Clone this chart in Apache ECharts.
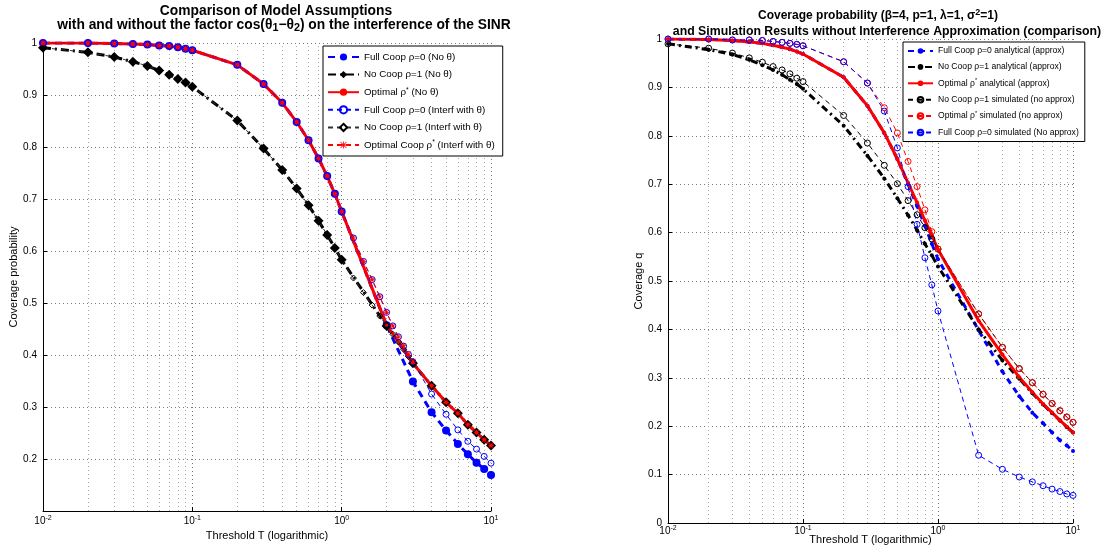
<!DOCTYPE html>
<html>
<head>
<meta charset="utf-8">
<title>Coverage probability comparison</title>
<script src="https://cdn.jsdelivr.net/npm/echarts@6.0.0/dist/echarts.min.js"></script>
<style>
  html, body { margin: 0; padding: 0; background: #fff; }
  #chart { width: 1104px; height: 551px; }
</style>
</head>
<body>
<div id="chart"></div>
<script>
// threshold grid (shared by most curves)
const T = [0.01, 0.02, 0.03, 0.04, 0.05, 0.06, 0.07, 0.08, 0.09, 0.1,
  0.2, 0.3, 0.4, 0.5, 0.6, 0.7, 0.8, 0.9, 1,
  2, 3, 4, 5, 6, 7, 8, 9, 10]
// finer grid used by the "Interf with θ" curves
const thetaT = [0.01, 0.02, 0.03, 0.04, 0.05, 0.06, 0.07, 0.08, 0.09, 0.1,
  0.2, 0.3, 0.4, 0.5, 0.6, 0.7, 0.8, 0.9, 1,
  1.2, 1.4, 1.6, 1.8, 2, 2.2, 2.4, 2.6, 2.8, 3,
  4, 5, 6, 7, 8, 9, 10]

// left panel
const fullCoopNoTheta = [1.000, 1.000, 0.999, 0.998, 0.997, 0.995, 0.994, 0.992, 0.989, 0.986,
  0.958, 0.921, 0.885, 0.848, 0.813, 0.778, 0.744, 0.710, 0.676,
  0.457, 0.349, 0.290, 0.255, 0.229, 0.209, 0.193, 0.181, 0.169]
const noCoopNoTheta = [0.991, 0.982, 0.973, 0.964, 0.956, 0.947, 0.939, 0.931, 0.924, 0.916,
  0.851, 0.797, 0.756, 0.720, 0.688, 0.658, 0.631, 0.606, 0.583,
  0.456, 0.384, 0.341, 0.309, 0.288, 0.266, 0.251, 0.237, 0.226]
const optimalNoTheta = [1.000, 1.000, 0.999, 0.998, 0.997, 0.995, 0.994, 0.992, 0.989, 0.986,
  0.958, 0.921, 0.885, 0.848, 0.813, 0.778, 0.744, 0.710, 0.676,
  0.458, 0.384, 0.341, 0.309, 0.288, 0.266, 0.251, 0.237, 0.226]
const fullCoopTheta = [1.000, 1.000, 0.999, 0.998, 0.997, 0.995, 0.994, 0.992, 0.989, 0.986,
  0.958, 0.921, 0.885, 0.848, 0.813, 0.778, 0.744, 0.710, 0.676,
  0.625, 0.580, 0.545, 0.512, 0.482, 0.456, 0.435, 0.417, 0.401, 0.387,
  0.325, 0.286, 0.256, 0.234, 0.219, 0.205, 0.192]
const noCoopTheta = [0.991, 0.982, 0.973, 0.964, 0.956, 0.947, 0.939, 0.931, 0.924, 0.916,
  0.851, 0.797, 0.756, 0.720, 0.688, 0.658, 0.631, 0.606, 0.583,
  0.548, 0.520, 0.496, 0.475, 0.456, 0.440, 0.425, 0.411, 0.397, 0.384,
  0.341, 0.309, 0.288, 0.266, 0.251, 0.237, 0.226]
const optimalTheta = [1.000, 1.000, 0.999, 0.998, 0.997, 0.995, 0.994, 0.992, 0.989, 0.986,
  0.958, 0.921, 0.885, 0.848, 0.813, 0.778, 0.744, 0.710, 0.676,
  0.625, 0.580, 0.545, 0.512, 0.482, 0.456, 0.435, 0.418, 0.402, 0.388,
  0.341, 0.309, 0.288, 0.266, 0.251, 0.237, 0.226]

// right panel
const fullAnalytic = [1.000, 0.999, 0.997, 0.994, 0.991, 0.987, 0.983, 0.979, 0.974, 0.969,
  0.921, 0.862, 0.806, 0.752, 0.700, 0.655, 0.614, 0.577, 0.545,
  0.398, 0.313, 0.262, 0.228, 0.206, 0.187, 0.171, 0.160, 0.149]
const noCoopAnalytic = [0.990, 0.978, 0.968, 0.957, 0.946, 0.936, 0.926, 0.916, 0.907, 0.897,
  0.821, 0.759, 0.712, 0.671, 0.636, 0.605, 0.577, 0.553, 0.530,
  0.400, 0.336, 0.298, 0.268, 0.245, 0.227, 0.212, 0.198, 0.187]
const optimalAnalytic = [1.000, 0.999, 0.997, 0.994, 0.991, 0.987, 0.983, 0.979, 0.974, 0.969,
  0.921, 0.862, 0.806, 0.752, 0.703, 0.662, 0.625, 0.595, 0.565,
  0.418, 0.348, 0.301, 0.270, 0.246, 0.228, 0.212, 0.199, 0.187]
const noCoopSim = [0.990, 0.981, 0.971, 0.961, 0.952, 0.943, 0.936, 0.928, 0.919, 0.912,
  0.842, 0.785, 0.739, 0.701, 0.666, 0.637, 0.610, 0.587, 0.566,
  0.432, 0.363, 0.319, 0.290, 0.266, 0.247, 0.232, 0.219, 0.208]
const optimalSim = [1.000, 1.000, 0.998, 0.998, 0.997, 0.995, 0.993, 0.991, 0.989, 0.986,
  0.953, 0.909, 0.858, 0.806, 0.747, 0.695, 0.647, 0.602, 0.566,
  0.432, 0.363, 0.319, 0.290, 0.266, 0.247, 0.232, 0.219, 0.208]
const fullSim = [1.000, 1.000, 0.998, 0.998, 0.997, 0.995, 0.993, 0.991, 0.989, 0.986,
  0.953, 0.909, 0.851, 0.775, 0.695, 0.617, 0.548, 0.492, 0.438,
  0.140, 0.111, 0.095, 0.085, 0.077, 0.070, 0.065, 0.060, 0.057]

// log minor grid positions
const minorT = [0.02, 0.03, 0.04, 0.05, 0.06, 0.07, 0.08, 0.09,
  0.2, 0.3, 0.4, 0.5, 0.6, 0.7, 0.8, 0.9,
  2, 3, 4, 5, 6, 7, 8, 9]

const leftNames = ['Full Coop ρ=0 (No θ)', 'No Coop ρ=1 (No θ)', 'Optimal ρ* (No θ)',
  'Full Coop ρ=0 (Interf with θ)', 'No Coop ρ=1 (Interf with θ)', 'Optimal Coop ρ* (Interf with θ)']
const rightNames = ['Full Coop ρ=0 analytical (approx)', 'No Coop ρ=1 analytical (approx)',
  'Optimal ρ* analytical (approx)', 'No Coop ρ=1 simulated (no approx)',
  'Optimal ρ* simulated (no approx)', 'Full Coop ρ=0 simulated (No approx)']

const FONT = '"Liberation Sans", Arial, Helvetica, sans-serif'
const BLUE = '#0000ff'
const RED = '#ff0000'
const BLACK = '#000000'
const STAR = 'path://M4,0h1v9h-1z M0,4h9v1h-9z M1.2,0.5l7.3,7.3l-0.7,0.7l-7.3,-7.3z M7.8,0.5l0.7,0.7l-7.3,7.3l-0.7,-0.7z'

const chart = echarts.init(document.getElementById('chart'))

function pairs(xs, ys) {
  return xs.map((t, i) => [t, ys[i]])
}

function supName(name) {
  return name.replace('ρ*', 'ρ{sup|*}')
}

function makeX(idx, nameGap, labelMargin) {
  return {
    type: 'log',
    logBase: 10,
    gridIndex: idx,
    min: 0.01,
    max: 10,
    name: 'Threshold T (logarithmic)',
    nameLocation: 'middle',
    nameGap: nameGap,
    nameMoveOverlap: false,
    nameTextStyle: { fontSize: 11, color: '#000', fontFamily: FONT },
    axisLine: { lineStyle: { color: '#000', width: 1 } },
    axisTick: { inside: true, length: 4, lineStyle: { color: '#000' } },
    axisLabel: {
      color: '#000',
      fontSize: 10,
      fontFamily: FONT,
      margin: labelMargin,
      formatter: v => '10{sup|' + Math.round(Math.log10(v)) + '}',
      rich: { sup: { fontSize: 7, padding: [0, 0, 6, 0], fontFamily: FONT } }
    },
    splitLine: { show: true, lineStyle: { color: '#777', type: [1, 3] } }
  }
}

function makeY(idx, min, name, nameGap, hideMin) {
  return {
    type: 'value',
    gridIndex: idx,
    min: min,
    max: 1,
    interval: 0.1,
    name: name,
    nameLocation: 'middle',
    nameGap: nameGap,
    nameTextStyle: { fontSize: 11, color: '#000', fontFamily: FONT },
    axisLine: { show: true, lineStyle: { color: '#000', width: 1 } },
    axisTick: { show: true, inside: true, length: 4, lineStyle: { color: '#000' } },
    axisLabel: {
      color: '#000',
      fontSize: 10,
      fontFamily: FONT,
      margin: 6,
      formatter: v => (hideMin && v < min + 0.05) ? '' : String(+v.toFixed(1))
    },
    splitLine: { show: true, lineStyle: { color: '#777', type: [1, 3] } }
  }
}

function line(name, idx, xs, ys, opts) {
  return Object.assign({
    type: 'line',
    name: name,
    xAxisIndex: idx,
    yAxisIndex: idx,
    data: pairs(xs, ys),
    showAllSymbol: true,
    animation: false,
    emphasis: { disabled: true }
  }, opts)
}

function minorGrid() {
  return {
    silent: true,
    z: 1,
    symbol: 'none',
    label: { show: false },
    lineStyle: { color: '#aaa', type: [1, 3], width: 1 },
    data: minorT.map(t => ({ xAxis: t }))
  }
}

function openMarker(color) {
  return { color: 'rgba(255,255,255,0)', borderColor: color, borderWidth: 1 }
}

const series = [
  // left panel
  line(leftNames[0], 0, T, fullCoopNoTheta, {
    lineStyle: { color: BLUE, width: 3, type: [7, 5] },
    symbol: 'circle', symbolSize: 8, itemStyle: { color: BLUE },
    markLine: minorGrid()
  }),
  line(leftNames[1], 0, T, noCoopNoTheta, {
    lineStyle: { color: BLACK, width: 3, type: [8, 4, 2, 4] },
    symbol: 'diamond', symbolSize: 10, itemStyle: { color: BLACK }
  }),
  line(leftNames[2], 0, T, optimalNoTheta, {
    lineStyle: { color: RED, width: 3 },
    symbol: 'circle', symbolSize: 4, itemStyle: { color: RED }
  }),
  line(leftNames[3], 0, thetaT, fullCoopTheta, {
    lineStyle: { color: BLUE, width: 1, type: [5, 4] },
    symbol: 'circle', symbolSize: 6, itemStyle: openMarker(BLUE)
  }),
  line(leftNames[4], 0, thetaT, noCoopTheta, {
    lineStyle: { color: '#333', width: 1, type: [5, 4] },
    symbol: 'diamond', symbolSize: 6, itemStyle: openMarker(BLACK)
  }),
  line(leftNames[5], 0, thetaT, optimalTheta, {
    lineStyle: { color: RED, width: 1, type: [5, 4] },
    symbol: STAR, symbolSize: 6, itemStyle: { color: RED }
  }),
  // right panel
  line(rightNames[0], 1, T, fullAnalytic, {
    lineStyle: { color: BLUE, width: 3, type: [6, 5] },
    symbol: 'circle', symbolSize: 4, itemStyle: { color: BLUE },
    markLine: minorGrid()
  }),
  line(rightNames[1], 1, T, noCoopAnalytic, {
    lineStyle: { color: BLACK, width: 3, type: [7, 4, 2, 4] },
    symbol: 'circle', symbolSize: 4, itemStyle: { color: BLACK }
  }),
  line(rightNames[2], 1, T, optimalAnalytic, {
    lineStyle: { color: RED, width: 3 },
    symbol: 'circle', symbolSize: 4, itemStyle: { color: RED }
  }),
  line(rightNames[3], 1, T, noCoopSim, {
    lineStyle: { color: BLACK, width: 1, type: [5, 4] },
    symbol: 'circle', symbolSize: 6, itemStyle: openMarker(BLACK)
  }),
  line(rightNames[4], 1, T, optimalSim, {
    lineStyle: { color: RED, width: 1, type: [5, 4] },
    symbol: 'circle', symbolSize: 6, itemStyle: openMarker(RED)
  }),
  line(rightNames[5], 1, T, fullSim, {
    lineStyle: { color: BLUE, width: 1, type: [5, 4] },
    symbol: 'circle', symbolSize: 6, itemStyle: openMarker(BLUE)
  })
]

function titleStyle(size) {
  return {
    fontSize: size,
    fontWeight: 'bold',
    color: '#000',
    fontFamily: FONT,
    lineHeight: size + 2,
    rich: {
      sub: { fontSize: size - 3, fontWeight: 'bold', fontFamily: FONT, padding: [6, 0, 0, 0] },
      sup: { fontSize: size - 3, fontWeight: 'bold', fontFamily: FONT, padding: [0, 0, 6, 0] }
    }
  }
}

function legendFor(names, left, top, font, lineH, gap, iconW, iconH, pad) {
  return {
    data: names,
    orient: 'vertical',
    left: left,
    top: top,
    padding: pad,
    itemGap: gap,
    itemWidth: iconW,
    itemHeight: iconH,
    selectedMode: false,
    backgroundColor: '#fff',
    borderColor: '#000',
    borderWidth: 1,
    borderRadius: 0,
    formatter: supName,
    textStyle: {
      fontSize: font,
      color: '#000',
      fontFamily: FONT,
      lineHeight: lineH,
      rich: { sup: { fontSize: font - 3, lineHeight: lineH, padding: [0, 0, 5, 0], fontFamily: FONT } }
    }
  }
}

chart.setOption({
  animation: false,
  backgroundColor: '#fff',
  textStyle: { fontFamily: FONT },
  title: [
    { text: 'Comparison of Model Assumptions', left: 276, top: 3, padding: 0, textAlign: 'center', textStyle: titleStyle(13.8) },
    { text: 'with and without the factor cos(θ{sub|1}−θ{sub|2}) on the interference of the SINR', left: 284, top: 17, padding: 0, textAlign: 'center', textStyle: titleStyle(13.8) },
    { text: 'Coverage probability (β=4, p=1, λ=1, σ{sup|2}=1)', left: 878, top: 9, padding: 0, textAlign: 'center', textStyle: titleStyle(12) },
    { text: 'and Simulation Results without Interference Approximation (comparison)', left: 887, top: 24, padding: 0, textAlign: 'center', textStyle: titleStyle(12.3) }
  ],
  grid: [
    { left: 43, top: 43, width: 448, height: 468, outerBoundsMode: 'none' },
    { left: 668, top: 39, width: 405, height: 484, outerBoundsMode: 'none' }
  ],
  xAxis: [makeX(0, 19, 4), makeX(1, 11, 2)],
  yAxis: [
    makeY(0, 0.1, 'Coverage probability', 24, true),
    makeY(1, 0, 'Coverage q', 12, false)
  ],
  legend: [
    legendFor(leftNames, 323, 46, 9.8, 12, 5.6, 31, 9, [5, 8, 5, 4]),
    legendFor(rightNames, 903, 42, 8.6, 10, 5.9, 25, 7, [4, 6, 4, 4])
  ],
  series: series
})
</script>
</body>
</html>
